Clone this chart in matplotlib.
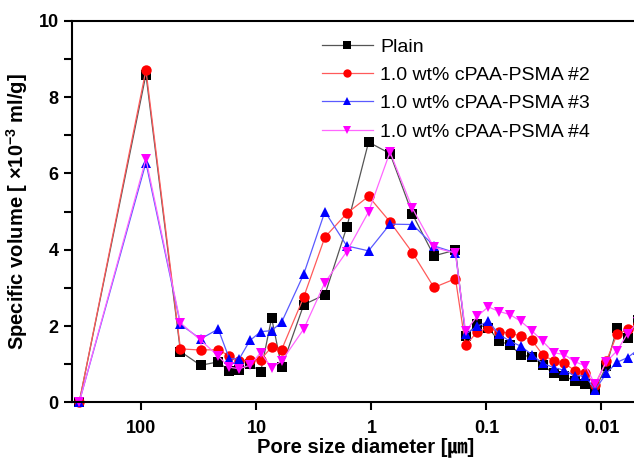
import matplotlib
matplotlib.use("Agg")
import matplotlib.pyplot as plt
from matplotlib.ticker import FixedLocator, NullLocator, FixedFormatter, MultipleLocator

plt.rcParams['font.family'] = ['Liberation Sans', 'Noto Sans CJK KR', 'DejaVu Sans']
plt.rcParams['mathtext.fontset'] = 'custom'
plt.rcParams['mathtext.rm'] = 'Liberation Sans:bold'
plt.rcParams['mathtext.default'] = 'rm'

# Pore size diameter (um)
diameter = [347.6, 91.4, 45.8, 30.6, 21.5, 17.2, 14.1, 11.4, 9.19, 7.38, 6.04,
            3.88, 2.54, 1.64, 1.06, 0.690, 0.440, 0.286, 0.186, 0.152, 0.121,
            0.0965, 0.0774, 0.0625, 0.0501, 0.0404, 0.0325, 0.0260, 0.0210,
            0.0170, 0.0138, 0.0114, 0.00908, 0.00733, 0.00594, 0.00482]

plain = [0, 8.59, 1.33, 0.97, 1.06, 0.82, 0.84, 1.0, 0.80, 2.21, 0.92,
         2.56, 2.82, 4.59, 6.82, 6.52, 4.93, 3.84, 3.99, 1.75, 2.04,
         1.95, 1.60, 1.51, 1.23, 1.20, 0.97, 0.76, 0.68, 0.56, 0.47,
         0.33, 0.94, 1.95, 1.68, 2.15]
psma2 = [0, 8.71, 1.40, 1.37, 1.38, 1.21, 1.08, 1.12, 1.12, 1.45, 1.38,
         2.76, 4.33, 4.95, 5.40, 4.73, 3.92, 3.01, 3.24, 1.49, 1.84,
         1.95, 1.84, 1.82, 1.73, 1.63, 1.25, 1.08, 1.02, 0.83, 0.78,
         0.45, 1.08, 1.78, 1.91, 2.05]
psma3 = [0, 6.28, 2.04, 1.66, 1.92, 1.14, 1.14, 1.62, 1.85, 1.88, 2.10,
         3.36, 5.00, 4.10, 3.97, 4.67, 4.66, 4.10, 3.92, 1.78, 1.99,
         2.12, 1.78, 1.60, 1.47, 1.25, 1.02, 0.91, 0.84, 0.69, 0.70,
         0.32, 0.76, 1.05, 1.17, 1.38]
psma4 = [0, 6.38, 2.08, 1.63, 1.21, 0.92, 0.88, 0.97, 1.30, 0.91, 1.08,
         1.92, 3.14, 3.95, 4.99, 6.56, 5.08, 4.06, 3.91, 1.86, 2.25,
         2.50, 2.38, 2.30, 2.12, 1.88, 1.60, 1.30, 1.25, 1.06, 0.96,
         0.47, 1.06, 1.35, 1.80, 2.10]

labels = ['Plain', '1.0 wt% cPAA-PSMA #2', '1.0 wt% cPAA-PSMA #3', '1.0 wt% cPAA-PSMA #4']
xticks = [100, 10, 1, 0.1, 0.01]
xticklabels = ['100', '10', '1', '0.1', '0.01']

W, H = 634, 461
fig = plt.figure(figsize=(W / 100, H / 100), dpi=100)
left_px, right_px, top_px, bottom_px = 71.7, 660, 20.8, 402.3
ax = fig.add_axes([left_px / W, 1 - bottom_px / H, (right_px - left_px) / W, (bottom_px - top_px) / H])

series = [(plain, 'black', '#555555', 's'), (psma2, 'red', '#ff5a5a', 'o'),
          (psma3, 'blue', '#5a5aff', '^'), (psma4, 'magenta', '#ff66ff', 'v')]
for (vals, col, lcol, mk), lab in zip(series, labels):
    ax.plot(diameter, vals, color=lcol, marker=mk, markersize=7.5, linewidth=0.9,
            markerfacecolor=col, markeredgewidth=0, label=lab, clip_on=False)

ax.set_xscale('log')
ax.set_xlim(404, 10 ** (2 - (right_px - 141.5) / 115))
ax.set_ylim(0, 10)
ax.xaxis.set_major_locator(FixedLocator(xticks))
ax.xaxis.set_major_formatter(FixedFormatter(xticklabels))
ax.xaxis.set_minor_locator(NullLocator())
ax.yaxis.set_major_locator(MultipleLocator(2))
ax.yaxis.set_minor_locator(MultipleLocator(1))

for s in ax.spines.values():
    s.set_linewidth(1.5)
ax.tick_params(axis='both', which='both', direction='out', width=1.5, length=6)
ax.tick_params(axis='x', pad=7)
ax.tick_params(axis='both', labelsize=13)
for t in ax.get_xticklabels() + ax.get_yticklabels():
    t.set_fontweight('bold')

ax.set_xlabel('Pore size diameter [㎛]', fontsize=14.5, fontweight='bold', labelpad=0)
ax.set_ylabel('Specific volume [ ×10$^{-3}$ ml/g]', fontsize=14.5, fontweight='bold', labelpad=6)

leg = ax.legend(loc='upper left', bbox_to_anchor=(322 / W, 1 - 38 / H),
                bbox_transform=fig.transFigure, frameon=False, fontsize=14,
                handlelength=2.6, handletextpad=0.4, labelspacing=0.55,
                borderpad=0, borderaxespad=0, markerscale=0.8)

fig.savefig('out.png', dpi=100)
